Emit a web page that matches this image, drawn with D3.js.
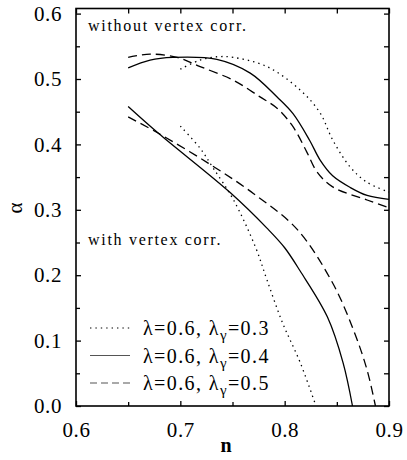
<!doctype html>
<html lang="en">
<head>
  <meta charset="utf-8">
  <title>alpha vs n</title>
  <style>
    * { margin: 0; padding: 0; box-sizing: border-box; }
    body { background: #fff; }
    .axis line { stroke: #000; stroke-width: 1.3; }
    .axis path { display: none; }
    .curve { fill: none; stroke: #000; stroke-width: 1.3; }
  </style>
</head>
<body>
  <div id="container"></div>
  <script src="https://cdn.jsdelivr.net/npm/d3@7"></script>
  <script>
    // tick labels
    const xTicks = [0.6, 0.7, 0.8, 0.9];
    const yTicks = [0.0, 0.1, 0.2, 0.3, 0.4, 0.5, 0.6];

    // legend entries, lambda_gamma values
    const lambdas = ['0.3', '0.4', '0.5'];
    const styles = ['dot', 'solid', 'dash'];

    // without vertex corrections (upper curves), [n, alpha]
    const noVc03 = [[0.700,0.515],[0.719,0.529],[0.735,0.534],[0.751,0.533],[0.783,0.519],[0.815,0.483],
      [0.834,0.448],[0.846,0.407],[0.863,0.365],[0.879,0.342],[0.900,0.327]];
    const noVc04 = [[0.650,0.517],[0.671,0.529],[0.693,0.533],[0.735,0.530],[0.767,0.509],[0.793,0.472],
      [0.808,0.447],[0.824,0.406],[0.834,0.376],[0.846,0.352],[0.863,0.334],[0.879,0.322],[0.900,0.316]];
    const noVc05 = [[0.650,0.533],[0.671,0.538],[0.697,0.533],[0.719,0.519],[0.751,0.498],[0.776,0.473],
      [0.793,0.455],[0.808,0.427],[0.821,0.389],[0.831,0.358],[0.846,0.335],[0.879,0.315],[0.900,0.303]];

    // with vertex corrections (lower curves)
    const vc03 = [[0.700,0.428],[0.719,0.394],[0.731,0.365],[0.751,0.315],[0.772,0.243],[0.783,0.193],
      [0.798,0.127],[0.815,0.066],[0.830,0.000]];
    const vc04 = [[0.650,0.458],[0.679,0.417],[0.748,0.326],[0.783,0.272],[0.800,0.242],[0.815,0.206],
      [0.841,0.136],[0.856,0.066],[0.865,0.000]];
    const vc05 = [[0.650,0.442],[0.679,0.417],[0.727,0.371],[0.770,0.325],[0.812,0.270],[0.846,0.188],
      [0.866,0.116],[0.879,0.055],[0.887,0.000]];

    const W = 407, H = 460;
    const L = 76, R = 389, T = 8.5, B = 406;
    const FONT = '"Liberation Serif", "Times New Roman", Times, serif';

    const svg = d3.select('#container').append('svg').attr('width', W).attr('height', H);

    const x = d3.scaleLinear().domain([0.6, 0.9]).range([L, R]);
    const y = d3.scaleLinear().domain([0, 0.6]).range([B, 13.6]);

    const dash = { dot: '1.4,4', solid: null, dash: '9,5' };

    // ticks: minor every 0.05, major every 0.1, all pointing inward
    const xMinor = d3.range(0.65, 0.9, 0.1);
    const yMinor = d3.range(0.05, 0.6, 0.1);

    svg.append('g').attr('class', 'axis').attr('transform', `translate(0,${B})`)
      .call(d3.axisBottom(x).tickValues(xTicks).tickSize(-5).tickPadding(16).tickFormat(d3.format('.1f')));
    svg.append('g').attr('class', 'axis').attr('transform', `translate(0,${B})`)
      .call(d3.axisBottom(x).tickValues(xMinor).tickSize(-4).tickFormat(''));
    svg.append('g').attr('class', 'axis').attr('transform', `translate(0,${T})`)
      .call(d3.axisTop(x).tickValues(xTicks.concat(xMinor)).tickSize(-5).tickFormat(''));

    svg.append('g').attr('class', 'axis').attr('transform', `translate(${L},0)`)
      .call(d3.axisLeft(y).tickValues(yTicks).tickSize(-5).tickPadding(14).tickFormat(d3.format('.1f')));
    svg.append('g').attr('class', 'axis').attr('transform', `translate(${L},0)`)
      .call(d3.axisLeft(y).tickValues(yMinor).tickSize(-4).tickFormat(''));
    svg.append('g').attr('class', 'axis').attr('transform', `translate(${R},0)`)
      .call(d3.axisRight(y).tickValues(yTicks.concat(yMinor)).tickSize(-5).tickFormat(''));

    svg.selectAll('.axis').attr('font-family', null).attr('font-size', null);
    svg.selectAll('.axis text').style('font-family', FONT).style('font-size', '21px')
      .style('letter-spacing', '0.6px').attr('fill', '#000');

    svg.append('rect').attr('x', L).attr('y', T).attr('width', R - L).attr('height', B - T)
      .attr('fill', 'none').attr('stroke', '#000').attr('stroke-width', 1.6);

    const line = d3.line().x(d => x(d[0])).y(d => y(d[1])).curve(d3.curveCatmullRom.alpha(0.5));

    const curves = [
      [noVc03, 'dot'], [noVc04, 'solid'], [noVc05, 'dash'],
      [vc03, 'dot'], [vc04, 'solid'], [vc05, 'dash']
    ];
    curves.forEach(([d, s]) => {
      svg.append('path').attr('class', 'curve').attr('d', line(d))
        .attr('stroke-dasharray', dash[s]);
    });

    // annotations
    svg.append('text').attr('x', 88).attr('y', 31).style('font-family', FONT).style('font-size', '16px')
      .style('letter-spacing', '1.7px').text('without vertex corr.');
    svg.append('text').attr('x', 88).attr('y', 245).style('font-family', FONT).style('font-size', '16px')
      .style('letter-spacing', '1.7px').text('with vertex corr.');

    // legend
    const leg = svg.append('g');
    lambdas.forEach((v, i) => {
      const yy = 328 + i * 27.5;
      leg.append('line').attr('x1', 90).attr('x2', 130).attr('y1', yy).attr('y2', yy)
        .attr('stroke', i === 0 ? '#000' : '#555').attr('stroke-width', 1.1)
        .attr('stroke-dasharray', i === 2 ? '7,4' : dash[styles[i]]);
      const t = leg.append('text').attr('x', 143).attr('y', yy + 7)
        .style('font-family', FONT).style('font-size', '20px').style('letter-spacing', '1.4px');
      t.append('tspan').text('λ=0.6, λ');
      t.append('tspan').attr('dy', 5).style('font-size', '15px').text('γ');
      t.append('tspan').attr('dy', -5).text('=' + v);
    });

    // axis titles
    svg.append('text').attr('transform', 'translate(22,208) rotate(-90)').attr('text-anchor', 'middle')
      .style('font-family', FONT).style('font-size', '21px').text('α');
    svg.append('text').attr('x', 226).attr('y', 452).attr('text-anchor', 'middle')
      .style('font-family', FONT).style('font-size', '20px').style('font-weight', 'bold').text('n');
  </script>
</body>
</html>
